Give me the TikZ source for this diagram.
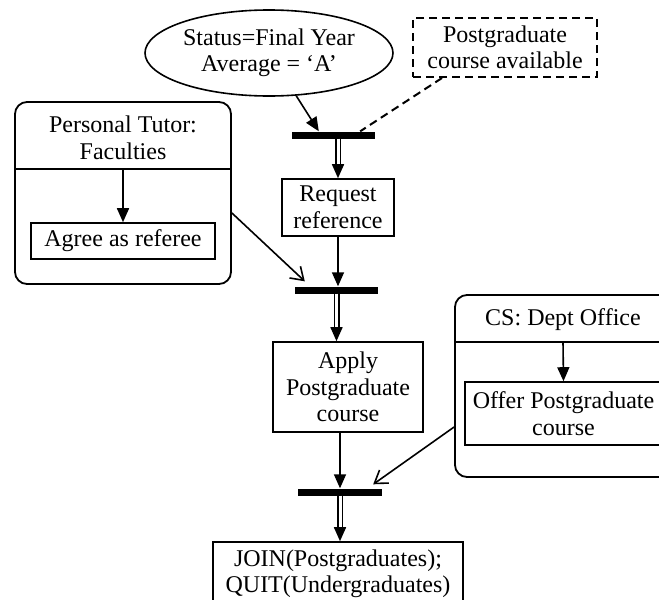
\documentclass[tikz,border=0pt]{standalone}
\usepackage{fontspec}
\setmainfont{Liberation Serif}
\usetikzlibrary{arrows.meta,shapes.geometric}
\begin{document}
\begin{tikzpicture}[x=1pt,y=-1pt,
  every node/.style={font=\fontsize{24}{26.5}\selectfont, align=center, inner sep=0pt},
  act/.style={draw, line width=1.6pt},
  lane/.style={draw, line width=1.8pt, rounded corners=12pt},
  bar/.style={fill=black, minimum height=7pt},
  flow/.style={line width=1.6pt, -{Triangle[length=14pt,width=12pt]}},
  dbl/.style={double, double distance=3pt, line width=1.5pt},
  tip/.style={line width=1.6pt, -{Triangle[length=14pt,width=12pt]}},
  obj/.style={line width=1.6pt, -{Straight Barb[length=12pt,width=16pt]}},
  dashes/.style={line width=2pt, dash pattern=on 8pt off 5pt}]
\path[use as bounding box, clip] (0,0) rectangle (659,600);

\node[act, ellipse, minimum width=248pt, minimum height=86pt] (status) at (269,53) {Status=Final Year\\Average = ‘A’};
\node[act, dashes, minimum width=184pt, minimum height=59pt] (avail) at (505,47.5) {Postgraduate\\course available};

\node[bar, minimum width=83pt] (fork1) at (333.5,135) {};
\node[act, minimum width=112pt, minimum height=57pt] (request) at (338,207.5) {Request\\reference};
\node[bar, minimum width=83pt] (fork2) at (336.5,290) {};
\node[act, minimum width=150pt, minimum height=90pt] (apply) at (348,387) {Apply\\Postgraduate\\course};
\node[bar, minimum width=84pt] (fork3) at (340,492) {};
\node[act, minimum width=250pt, minimum height=64pt] (join) at (338,574) {JOIN(Postgraduates);\\QUIT(Undergraduates)};

% swimlanes
\node[lane, minimum width=216pt, minimum height=182pt] (tutor) at (123,193) {};
\node (tutorname) at (123,138) {Personal Tutor:\\Faculties};
\coordinate (tutorsplit) at (123,169);
\draw[act] (tutor.west |- tutorsplit) -- (tutor.east |- tutorsplit);
\node[act, minimum width=184pt, minimum height=36pt] (agree) at (123,241) {Agree as referee};

\node[lane, minimum width=225pt, minimum height=182pt] (office) at (567.5,386) {};
\node (officename) at (563,319.5) {CS: Dept Office};
\coordinate (officesplit) at (563,342);
\draw[act] (office.west |- officesplit) -- (office.east |- officesplit);
\node[act, minimum width=197pt, minimum height=63pt] (offer) at (563.5,413.5) {Offer Postgraduate\\course};

\draw[flow] (status) -- ([xshift=27pt]fork1.north west);
\draw[dashes] ([xshift=30pt]avail.south west) -- ([xshift=-15pt]fork1.north east);
\draw[dbl] (request.north |- fork1.south) -- ([yshift=10pt]request.north);
\draw[tip] ([yshift=14pt]request.north) -- (request.north);
\draw[flow] (request.south) -- (request.south |- fork2.north);

\coordinate (applyin) at (fork2.south |- apply.north);
\draw[dbl] (fork2.south) -- ([yshift=10pt]applyin);
\draw[tip] ([yshift=14pt]applyin) -- (applyin);
\draw[flow] (apply.south -| fork3.north) -- (fork3.north);

\coordinate (joinin) at (fork3.south |- join.north);
\draw[dbl] (fork3.south) -- ([yshift=10pt]joinin);
\draw[tip] ([yshift=14pt]joinin) -- (joinin);

\draw[flow] (tutorsplit) -- (agree.north);
\draw[flow] (officesplit) -- (offer.north);
\draw[obj] ([yshift=-20pt]tutor.east) -- ([xshift=10pt,yshift=5pt]fork2.north west);
\draw[obj] ([yshift=-41pt]office.west) -- ([xshift=-9pt,yshift=4pt]fork3.north east);
\end{tikzpicture}
\end{document}
